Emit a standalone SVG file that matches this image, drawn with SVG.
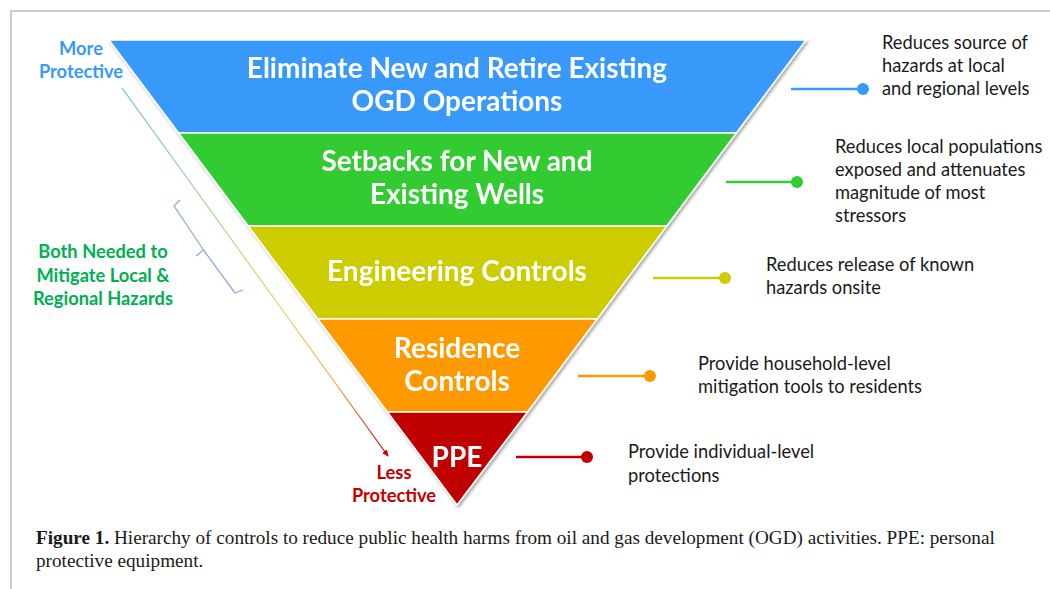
<svg xmlns="http://www.w3.org/2000/svg" width="1050" height="589" viewBox="0 0 1050 589">
<defs>
<style>
.band{stroke:#ffffff;stroke-width:1.5;stroke-linejoin:round}
.lvl{font-family:Lato,"Open Sans","Liberation Sans",sans-serif;font-weight:bold;font-size:28px;fill:#ffffff;text-anchor:middle}
.desc{font-family:Lato,"Open Sans","Liberation Sans",sans-serif;font-size:18.3px;fill:#1a1a1a}
.side{font-family:Lato,"Open Sans","Liberation Sans",sans-serif;font-weight:bold;font-size:18.3px;text-anchor:middle}
.cap{font-family:"Liberation Serif","Times New Roman",serif;font-size:19.2px;fill:#1a1a1a}
.conn{stroke-width:2.5;fill:none}
</style>
<filter id="sh" x="-5%" y="-5%" width="115%" height="115%">
<feDropShadow dx="1.5" dy="2" stdDeviation="1.5" flood-color="#000" flood-opacity="0.35"/>
</filter>
<linearGradient id="grad" gradientUnits="userSpaceOnUse" x1="122" y1="88" x2="388" y2="458">
<stop offset="0" stop-color="#6fb4ee"/>
<stop offset="0.35" stop-color="#a6d98f"/>
<stop offset="0.6" stop-color="#e6dc6a"/>
<stop offset="0.8" stop-color="#f2ad55"/>
<stop offset="1" stop-color="#c00000"/>
</linearGradient>
<marker id="ah" markerWidth="8" markerHeight="8" refX="6" refY="4" orient="auto" markerUnits="userSpaceOnUse">
<path d="M0,1 L7,4 L0,7 Z" fill="#c00000"/>
</marker>
</defs>
<rect x="0" y="0" width="1050" height="589" fill="#ffffff"/>
<path d="M11,589 L11,11 L1050,11" fill="none" stroke="#bdbdbd" stroke-width="1.5"/>

<g id="pyramid" filter="url(#sh)">
<g id="level-eliminate">
<polygon class="band" points="109,40 806,40 736.4,133 178.6,133" fill="#3899fb"/>
<text class="lvl" x="457" y="78">Eliminate New and Retire Existing</text>
<text class="lvl" x="457" y="111">OGD Operations</text>
</g>
<g id="level-setbacks">
<polygon class="band" points="178.6,133 736.4,133 666.8,226 248.2,226" fill="#33cc33"/>
<text class="lvl" x="457" y="171">Setbacks for New and</text>
<text class="lvl" x="457" y="204">Existing Wells</text>
</g>
<g id="level-engineering">
<polygon class="band" points="248.2,226 666.8,226 597.2,319 317.8,319" fill="#cccc00"/>
<text class="lvl" x="457" y="281">Engineering Controls</text>
</g>
<g id="level-residence">
<polygon class="band" points="317.8,319 597.2,319 527.6,412 387.4,412" fill="#ff9900"/>
<text class="lvl" x="457" y="358">Residence</text>
<text class="lvl" x="457" y="391">Controls</text>
</g>
<g id="level-ppe">
<polygon class="band" points="387.4,412 527.6,412 457,505" fill="#c00000"/>
<text class="lvl" x="457" y="467">PPE</text>
</g>
</g>

<g id="connectors">
<line class="conn" x1="791" y1="89" x2="863" y2="89" stroke="#3899fb"/>
<circle cx="863" cy="89" r="6" fill="#3899fb"/>
<line class="conn" x1="726" y1="182" x2="797" y2="182" stroke="#33cc33"/>
<circle cx="797" cy="182" r="6" fill="#33cc33"/>
<line class="conn" x1="653" y1="278" x2="725" y2="278" stroke="#cccc00"/>
<circle cx="725" cy="278" r="6" fill="#cccc00"/>
<line class="conn" x1="578" y1="376" x2="650" y2="376" stroke="#ff9900"/>
<circle cx="650" cy="376" r="6" fill="#ff9900"/>
<line class="conn" x1="516" y1="457" x2="587" y2="457" stroke="#c00000"/>
<circle cx="587" cy="457" r="6" fill="#c00000"/>
<line x1="122" y1="88" x2="388" y2="456" stroke="url(#grad)" stroke-width="1.2" marker-end="url(#ah)"/>
<path d="M180,200 L174,206 L203.5,250 L196,256 M203.5,250 L235,293 L243,290" fill="none" stroke="#8faadc" stroke-width="1.3" stroke-linejoin="round"/>
</g>

<g id="desc-eliminate">
<text class="desc" x="882" y="49">Reduces source of</text>
<text class="desc" x="882" y="72">hazards at local</text>
<text class="desc" x="882" y="95">and regional levels</text>
</g>
<g id="desc-setbacks">
<text class="desc" x="835" y="153">Reduces local populations</text>
<text class="desc" x="835" y="176">exposed and attenuates</text>
<text class="desc" x="835" y="199">magnitude of most</text>
<text class="desc" x="835" y="222">stressors</text>
</g>
<g id="desc-engineering">
<text class="desc" x="766" y="271">Reduces release of known</text>
<text class="desc" x="766" y="294">hazards onsite</text>
</g>
<g id="desc-residence">
<text class="desc" x="698" y="370">Provide household-level</text>
<text class="desc" x="698" y="393">mitigation tools to residents</text>
</g>
<g id="desc-ppe">
<text class="desc" x="628" y="458">Provide individual-level</text>
<text class="desc" x="628" y="482">protections</text>
</g>

<g id="label-more">
<text class="side" fill="#3899fb" x="81" y="55">More</text>
<text class="side" fill="#3899fb" x="81" y="78">Protective</text>
</g>
<g id="label-both">
<text class="side" fill="#00b050" x="103" y="258">Both Needed to</text>
<text class="side" fill="#00b050" x="103" y="282">Mitigate Local &amp;</text>
<text class="side" fill="#00b050" x="103" y="305">Regional Hazards</text>
</g>
<g id="label-less">
<text class="side" fill="#c00000" x="394" y="479">Less</text>
<text class="side" fill="#c00000" x="394" y="502">Protective</text>
</g>

<g id="caption">
<text class="cap" x="36" y="544"><tspan font-weight="bold">Figure 1.</tspan> Hierarchy of controls to reduce public health harms from oil and gas development (OGD) activities. PPE: personal</text>
<text class="cap" x="36" y="567">protective equipment.</text>
</g>
</svg>
